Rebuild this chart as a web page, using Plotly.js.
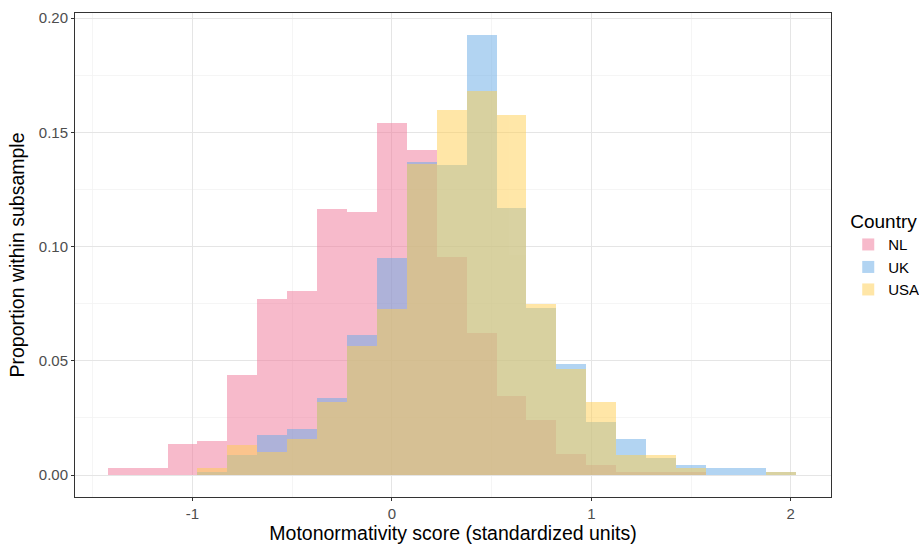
<!DOCTYPE html>
<html>
<head>
<meta charset="utf-8">
<script src="https://cdn.plot.ly/plotly-3.0.1.min.js"></script>
<style>html,body{margin:0;padding:0;background:#fff;}#chart{width:919px;height:544px;}</style>
</head>
<body>
<div id="chart"></div>
<script>
// Bin centers (bin width 0.15)
const binCenters = [-1.35,-1.2,-1.05,-0.9,-0.75,-0.6,-0.45,-0.3,-0.15,0,0.15,0.3,0.45,0.6,0.75,0.9,1.05,1.2,1.35,1.5,1.65,1.8,1.95];
const binWidth = 0.15;
const countries = ["NL","UK","USA"];
const nlValues  = [0.003,0.003,0.0137,0.0151,0.044,0.0772,0.0805,0.1164,0.1152,0.154,0.1423,0.0954,0.062,0.0347,0.0241,0.0093,0.0045,0.0013,0.0013,0.0013,0,0,0];
const ukValues  = [0,0,0,0.0013,0.0089,0.0176,0.0202,0.0336,0.0612,0.0949,0.1372,0.1357,0.1926,0.1169,0.0729,0.0484,0.0234,0.016,0.0075,0.0045,0.0032,0.0032,0.0013];
const usaValues = [0,0,0,0.003,0.0132,0.0103,0.0158,0.0318,0.0565,0.0725,0.136,0.1596,0.1679,0.1577,0.075,0.0462,0.0318,0.0087,0.0087,0.0032,0,0,0.0013];
const xTickVals = [-1,0,1,2];
const xTickText = ["-1","0","1","2"];
const yTickVals = [0,0.05,0.1,0.15,0.2];
const yTickText = ["0.00","0.05","0.10","0.15","0.20"];

const colors = ["#F17799","#67ABE7","#FFCF51"];
const series = [nlValues, ukValues, usaValues];

const traces = countries.map((c,i)=>({
  type:"bar", name:c, legendgroup:c, x:binCenters, y:series[i], width:binWidth,
  marker:{color:colors[i], line:{width:0}}, opacity:0.5, hoverinfo:"x+y+name"
}));

const fam = "Liberation Sans, Arial, sans-serif";
const axisFont = {family:fam, size:15, color:"#4D4D4D"};
const layout = {
  width:919, height:544,
  margin:{l:75, r:88, t:13, b:47, autoexpand:false},
  paper_bgcolor:"#fff", plot_bgcolor:"#fff",
  barmode:"overlay", bargap:0,
  font:{family:fam},
  xaxis:{
    range:[-1.589,2.202], tickvals:xTickVals, ticktext:xTickText,
    showgrid:true, gridcolor:"#E5E5E5", gridwidth:1,
    minor:{dtick:0.5, tick0:-1.5, showgrid:true, gridcolor:"#F2F2F2", gridwidth:0.8, ticks:""},
    zeroline:false, showline:true, mirror:true, linecolor:"#333333", linewidth:1,
    ticks:"outside", ticklen:3, tickcolor:"#333333", tickfont:axisFont,
    title:{text:"Motonormativity score (standardized units)", font:{size:19.5, color:"#000"}, standoff:3}
  },
  yaxis:{
    range:[-0.0096,0.2022], tickvals:yTickVals, ticktext:yTickText,
    showgrid:true, gridcolor:"#E5E5E5", gridwidth:1,
    minor:{dtick:0.025, tick0:0.025, showgrid:true, gridcolor:"#F2F2F2", gridwidth:0.8, ticks:""},
    zeroline:false, showline:true, mirror:true, linecolor:"#333333", linewidth:1,
    ticks:"outside", ticklen:3, tickcolor:"#333333", tickfont:axisFont,
    title:{text:"Proportion within subsample", font:{size:19.5, color:"#000"}, standoff:8}
  },
  legend:{
    x:0.923, xanchor:"left", y:0.5, yanchor:"middle",
    xref:"container",
    title:{text:"Country", font:{size:19, color:"#000"}},
    font:{size:15, color:"#000"}, traceorder:"normal", tracegroupgap:1, bgcolor:"rgba(0,0,0,0)"
  },
  showlegend:true
};
Plotly.newPlot("chart", traces, layout, {displayModeBar:false, staticPlot:true});
</script>
</body>
</html>
